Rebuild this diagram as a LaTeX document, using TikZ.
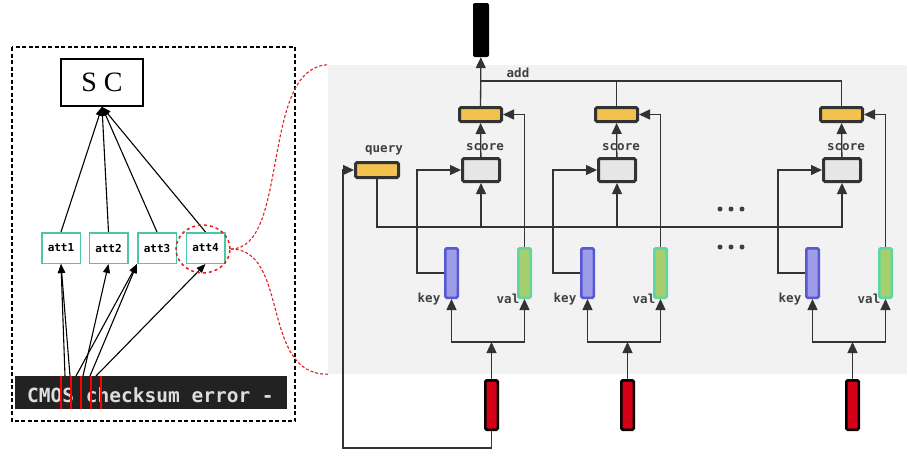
\documentclass[tikz,border=0pt]{standalone}
\usepackage{fontspec}
\setmainfont{Liberation Serif}
\setmonofont{DejaVu Sans Mono}
\usepackage{xcolor}
\usetikzlibrary{positioning,arrows.meta,calc,shapes.geometric}

\definecolor{boxline}{HTML}{333333}
\definecolor{labelgray}{HTML}{404040}
\definecolor{yelfill}{HTML}{F2C14E}
\definecolor{scorefill}{HTML}{E6E6E6}
\definecolor{keyline}{HTML}{5858D0}
\definecolor{keyfill}{HTML}{9C9CE8}
\definecolor{valline}{HTML}{5ED6A4}
\definecolor{valfill}{HTML}{A6CF6E}
\definecolor{inred}{HTML}{D40016}
\definecolor{attline}{HTML}{4CC6A6}
\definecolor{zoomred}{HTML}{E0201E}
\definecolor{bandgray}{HTML}{222222}
\definecolor{bandtext}{HTML}{DDDDDD}
\definecolor{panelgray}{HTML}{F2F2F2}

\begin{document}
\begin{tikzpicture}[x=1pt, y=-1pt,
  lbl/.style={font=\ttfamily\bfseries\fontsize{12.5}{12.5}\selectfont, text=labelgray, inner sep=0pt},
  cell/.style={draw=boxline, line width=3pt, rounded corners=1.5pt, inner sep=0pt},
  yelbox/.style={cell, fill=yelfill, minimum width=42pt, minimum height=14pt},
  scorebox/.style={cell, fill=scorefill, minimum width=37pt, minimum height=23pt},
  vec/.style={line width=2.5pt, rounded corners=1.5pt, inner sep=0pt, minimum width=12.5pt, minimum height=49.5pt},
  keybox/.style={vec, draw=keyline, fill=keyfill},
  valbox/.style={vec, draw=valline, fill=valfill},
  inbox/.style={vec, draw=black, fill=inred},
  wire/.style={draw=boxline, line width=1.3pt},
  arr/.style={wire, -{Triangle[length=11pt,width=10pt]}},
  attbox/.style={draw=attline, line width=1.5pt, minimum width=38.5pt, minimum height=30.5pt, inner sep=0pt, font=\ttfamily\bfseries\fontsize{11}{11}\selectfont},
  blk/.style={-{Triangle[length=9pt,width=7pt]}, line width=1.1pt}
]
\useasboundingbox (0,0) rectangle (908,456);

% Zoomed panel (background)
\node[fill=panelgray, minimum width=579pt, minimum height=309pt, inner sep=0pt] (panel) at (617.5,219.5) {};

% Output vector
\node[fill=black, rounded corners=2pt, minimum width=16pt, minimum height=54pt, inner sep=0pt] (out) at (481,30) {};

% Query vector
\node[yelbox, minimum width=43pt, minimum height=15pt] (query) at (377,170) {};
\node[lbl] at (384,150) {query};

% One column per position
\foreach \i/\dx in {1/0, 2/136, 3/361} {
  \node[yelbox] (yel\i) at (480.5+\dx,114.5) {};
  \node[scorebox] (sc\i) at (481+\dx,170) {};
  \node[lbl] at (485+\dx,147) {score};
  \node[keybox] (key\i) at (451.5+\dx,273) {};
  \node[valbox] (val\i) at (524.5+\dx,273) {};
  \node[inbox] (in\i) at (491.5+\dx,405) {};
  \node[lbl] at (429+\dx,299) {key};
  \node[lbl] at (508+\dx,299) {val};
  \coordinate (fork\i) at (491.5+\dx,342);
  % edges
  \draw[arr] (sc\i) -- (yel\i);
  \draw[arr] (in\i) -- (fork\i);
  \draw[arr] (fork\i) -| (key\i);
  \draw[arr] (fork\i) -| (val\i);
  \draw[arr] (key\i.west) -- ++(-27,0) |- (sc\i.west);
  \draw[arr] (val\i.north) |- (yel\i.east);
}

% Query bus to the scores
\coordinate (bus) at (0,227);
\draw[arr] (query.south) |- (sc3 |- bus) -- (sc3);
\draw[arr] (sc1 |- bus) -- (sc1);
\draw[arr] (sc2 |- bus) -- (sc2);

% Feedback from the input to the query
\coordinate (back) at (343,448);
\draw[arr] (in1.south) |- (back) |- (query.west);

% Sum of the weighted values
\coordinate (addbus) at (0,81);
\draw[arr] (yel1) -- (out);
\draw[wire] (yel3.north) |- (out |- addbus);
\draw[wire] (yel2.north) -- (yel2 |- addbus);
\node[lbl] at (518,73) {add};

% Dots
\foreach \y in {209,247} {
  \foreach \x in {720,731,742} {
    \fill[labelgray] (\x,\y) circle (2.5pt);
  }
}

% Left panel
\draw[line width=1.6pt, dash pattern=on 4pt off 2.5pt] (12,47) rectangle (295,421);
\node[draw, line width=1.6pt, minimum width=82pt, minimum height=47pt, inner sep=0pt, font=\fontsize{28}{28}\selectfont] (SC) at (102,82.5) {S C};

\foreach \i/\x in {1/61, 2/108.5, 3/157, 4/205.5} {
  \node[attbox] (att\i) at (\x,248) {att\i};
  \draw[blk] (att\i.north) -- (SC.south);
}

% Input text strip
\node[fill=bandgray, minimum width=272pt, minimum height=33pt, inner sep=0pt] (band) at (151,392.5) {};
\node[anchor=base west, text=bandtext, font=\ttfamily\bfseries\fontsize{19.5}{19.5}\selectfont, inner sep=0pt] (cmos) at (27,402) {CMOS checksum error -};
\foreach \x in {61,71,81,91,101} {
  \draw[red, line width=1.2pt] (\x,376) -- (\x,409);
}

% Character windows to the attention heads
\foreach \n/\x in {a/65, b/70, c/76, d/83, e/90, f/96} {
  \coordinate (src\n) at (\x,376);
}
\foreach \s/\t in {a/att1.south, b/att1.south, d/att2.south, c/att3.south west, e/att3.south west, f/att4.south} {
  \draw[blk] (src\s) -- (\t);
}

% Zoom marker
\node[draw=zoomred, ellipse, dashed, line width=1.5pt, minimum width=54pt, minimum height=48pt, inner sep=0pt] (lens) at (203,249) {};
\draw[zoomred, line width=1.1pt, dash pattern=on 3pt off 2pt] (lens.east) .. controls (290,249) and (260,67) .. (panel.north west);
\draw[zoomred, line width=1.1pt, dash pattern=on 3pt off 2pt] (lens.east) .. controls (290,249) and (260,375) .. (panel.south west);
\end{tikzpicture}
\end{document}
